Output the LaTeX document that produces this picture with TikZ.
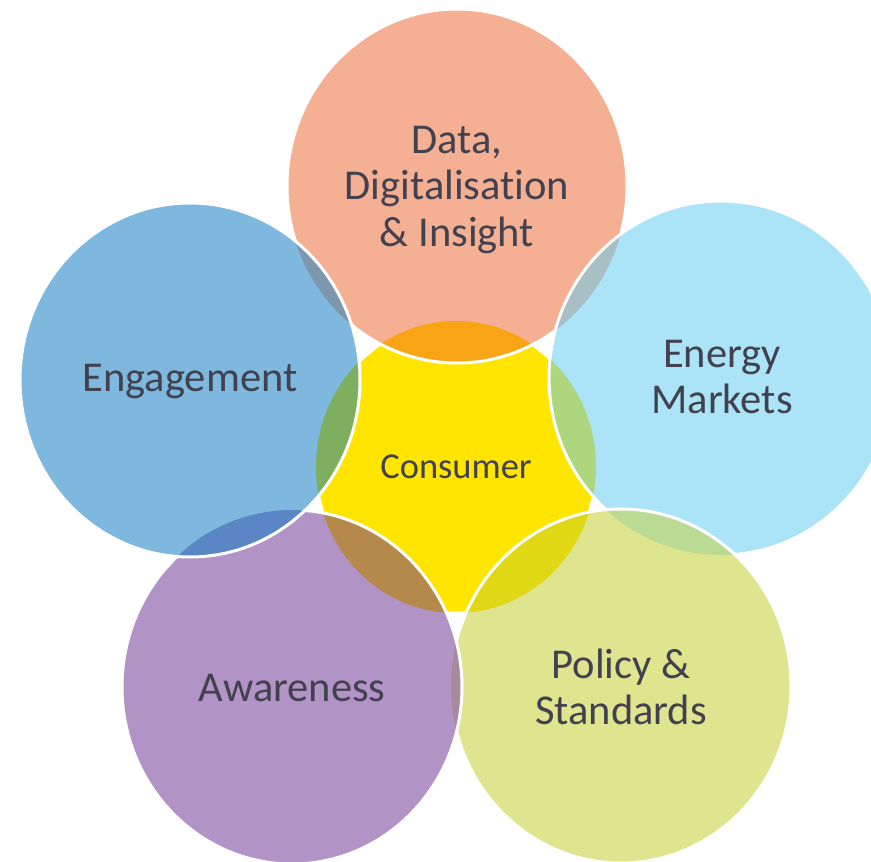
\documentclass[tikz,border=0pt]{standalone}
\usepackage{fontspec}
\setmainfont{Carlito}[Ligatures={NoCommon}]
\definecolor{cY}{HTML}{FFE500}
\definecolor{cD}{HTML}{F5B093}
\definecolor{cE}{HTML}{ABE3F7}
\definecolor{cP}{HTML}{DFE48F}
\definecolor{cA}{HTML}{B293C5}
\definecolor{cG}{HTML}{7EB8DE}
\definecolor{cDY}{HTML}{F8A414}
\definecolor{cEY}{HTML}{AED67F}
\definecolor{cED}{HTML}{A7BFC5}
\definecolor{cPY}{HTML}{E0D815}
\definecolor{cPE}{HTML}{BBDA93}
\definecolor{cAY}{HTML}{B5894A}
\definecolor{cAP}{HTML}{A88A9E}
\definecolor{cGY}{HTML}{7DAF5F}
\definecolor{cGD}{HTML}{7D98AC}
\definecolor{cGA}{HTML}{5A86C5}
\definecolor{txt}{HTML}{41414F}
\tikzset{
 shY/.style={insert path={(456,467) ellipse [x radius=140pt, y radius=146pt]}},
 shD/.style={insert path={(457,186) ellipse [x radius=170pt, y radius=177pt]}},
 shE/.style={insert path={(721,378) ellipse [x radius=172pt, y radius=177pt]}},
 shP/.style={insert path={(621,686) ellipse [x radius=170pt, y radius=177pt]}},
 shA/.style={insert path={(292,687) ellipse [x radius=170pt, y radius=177pt]}},
 shG/.style={insert path={(190,380) ellipse [x radius=170pt, y radius=177pt]}},
 rim/.style={draw=white, line width=3pt},
 lbl/.style={text=txt, font=\fontsize{42.5}{46.5}\selectfont, align=center, inner sep=0pt},
 lblc/.style={text=txt, font=\fontsize{36.5}{40}\selectfont, align=center, inner sep=0pt}
}
\begin{document}
\begin{tikzpicture}[x=1pt,y=-1pt]
\useasboundingbox (0,0) rectangle (871,862);
% centre
\fill[cY, shY]; \draw[rim, shY];
% top
\fill[cD, shD];
\begin{scope}\clip[shD]; \fill[cDY, shY];\end{scope}
\draw[rim, shD];
% energy
\fill[cE, shE];
\begin{scope}\clip[shE]; \fill[cEY, shY]; \fill[cED, shD];\end{scope}
\draw[rim, shE];
% policy
\fill[cP, shP];
\begin{scope}\clip[shP]; \fill[cPY, shY]; \fill[cPE, shE];\end{scope}
\draw[rim, shP];
% awareness
\fill[cA, shA];
\begin{scope}\clip[shA]; \fill[cAY, shY]; \fill[cAP, shP];\end{scope}
\draw[rim, shA];
% engagement
\fill[cG, shG];
\begin{scope}\clip[shG]; \fill[cGY, shY]; \fill[cGD, shD]; \fill[cGA, shA];\end{scope}
\draw[rim, shG];
% labels
\node[lbl] (data) at (457,190) {Data,\\Digitalisation\\\& Insight};
\node[lbl] (energy) at (722,377) {Energy\\Markets};
\node[lbl] (policy) at (621,687) {Policy \&\\Standards};
\node[lbl] (aware) at (292,688) {Awareness};
\node[lbl] (engage) at (190,382) {Engagement};
\node[lblc] (consumer) at (456,467) {Consumer};
\end{tikzpicture}
\end{document}
